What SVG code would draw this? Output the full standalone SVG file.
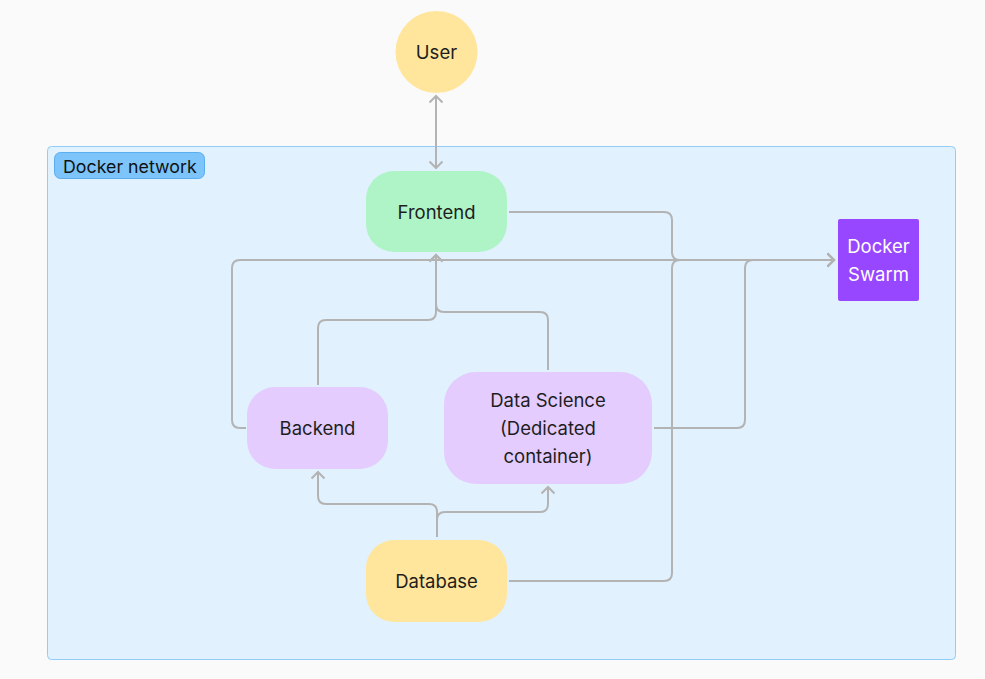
<svg xmlns="http://www.w3.org/2000/svg" width="985" height="679" viewBox="0 0 985 679">
<style>
.t{font-family:Inter,"Noto Sans","Liberation Sans",sans-serif;font-size:18.5px;fill:#1e1e1e;text-anchor:middle;dominant-baseline:central}
.c{fill:none;stroke:#b3b3b3;stroke-width:2}
</style>
<defs>
<marker id="ah" markerUnits="userSpaceOnUse" markerWidth="16" markerHeight="16" refX="9" refY="8" orient="auto-start-reverse">
<path d="M2.5,1.5 L9,8 L2.5,14.5" fill="none" stroke="#b3b3b3" stroke-width="2"/>
</marker>
</defs>
<rect width="985" height="679" fill="#fafafa"/>
<g id="docker-network">
<rect x="47.5" y="146.5" width="908" height="513" rx="4" fill="#e1f1fe" stroke="#92cdf7" stroke-width="1"/>
<rect x="54.5" y="152.5" width="150" height="26" rx="6" fill="#7cc4fa" stroke="#5aaef0" stroke-width="1"/>
<text x="63" y="166" font-family="Inter,'Noto Sans','Liberation Sans',sans-serif" font-size="17.8" fill="#111" dominant-baseline="central">Docker network</text>
</g>
<g id="connectors">
<path class="c" d="M436,96 V168" marker-start="url(#ah)" marker-end="url(#ah)"/>
<path class="c" d="M509,212 H664 Q672,212 672,220 V252 Q672,260 680,260 H834" marker-end="url(#ah)"/>
<path class="c" d="M246,428 H240 Q232,428 232,420 V268 Q232,260 240,260 H834" marker-end="url(#ah)"/>
<path class="c" d="M654,428 H737 Q745,428 745,420 V268 Q745,260 753,260 H834" marker-end="url(#ah)"/>
<path class="c" d="M509,581 H664 Q672,581 672,573 V268 Q672,260 680,260 H834" marker-end="url(#ah)"/>
<path class="c" d="M318,385 V328 Q318,320 326,320 H428 Q436,320 436,312 V255" marker-end="url(#ah)"/>
<path class="c" d="M548,370 V320 Q548,312 540,312 H444 Q436,312 436,304 V255" marker-end="url(#ah)"/>
<path class="c" d="M437,537 V512 Q437,504 429,504 H326 Q318,504 318,496 V472" marker-end="url(#ah)"/>
<path class="c" d="M437,537 V520 Q437,512 445,512 H540 Q548,512 548,504 V487" marker-end="url(#ah)"/>
</g>
<g id="user">
<circle cx="436.5" cy="52" r="41" fill="#ffe69c"/>
<text class="t" x="436.5" y="52">User</text>
</g>
<g id="frontend">
<rect x="366" y="171" width="141" height="81" rx="28" fill="#aff4c6"/>
<text class="t" x="436.5" y="212">Frontend</text>
</g>
<g id="backend">
<rect x="247" y="387" width="141" height="82" rx="28" fill="#e4ccff"/>
<text class="t" x="317.5" y="428">Backend</text>
</g>
<g id="data-science">
<rect x="444" y="372" width="208" height="112" rx="32" fill="#e4ccff"/>
<text class="t" x="548" y="400">Data Science</text>
<text class="t" x="548" y="428">(Dedicated</text>
<text class="t" x="548" y="456">container)</text>
</g>
<g id="database">
<rect x="366" y="540" width="141" height="82" rx="28" fill="#ffe69c"/>
<text class="t" x="436.5" y="581">Database</text>
</g>
<g id="docker-swarm">
<rect x="838" y="219" width="81" height="82" rx="2" fill="#9747ff"/>
<text class="t" x="878.5" y="246" style="fill:#fff">Docker</text>
<text class="t" x="878.5" y="274" style="fill:#fff">Swarm</text>
</g>
</svg>
